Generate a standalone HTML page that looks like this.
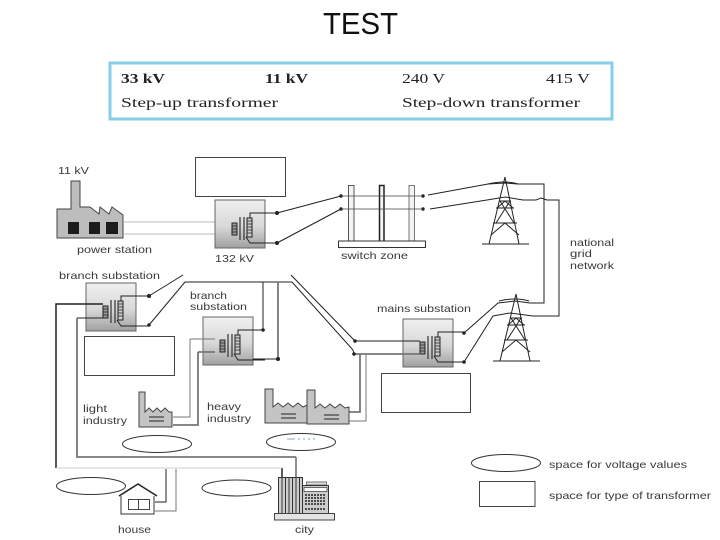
<!DOCTYPE html>
<html><head><meta charset="utf-8"><style>
html,body{margin:0;padding:0;background:#fff}
svg{display:block}
.l{font-family:"Liberation Sans",sans-serif;font-size:10.500px;fill:#3a3a3a}
.s{font-family:"Liberation Serif",serif;font-size:13.500px;fill:#222}
</style></head><body>
<svg width="720" height="540" viewBox="0 0 720 540" xmlns="http://www.w3.org/2000/svg">
<defs>
<linearGradient id="g" x1="0" y1="0" x2="0" y2="1"><stop offset="0" stop-color="#f0f0f0"/><stop offset=".55" stop-color="#d8d8d8"/><stop offset="1" stop-color="#a0a0a0"/></linearGradient>
<g id="tr">
<rect x="0" y="0" width="50" height="48" fill="url(#g)" stroke="#666" stroke-width="1"/>
<path d="M25 17V40M29 17V40" stroke="#333" stroke-width="1.200" fill="none"/>
<rect x="17" y="23" width="5" height="12" fill="#999" stroke="#222" stroke-width="1"/>
<path d="M17 26h5M17 29h5M17 32h5" stroke="#222" stroke-width=".8"/>
<rect x="32" y="18" width="5" height="19" fill="#ccc" stroke="#222" stroke-width="1"/>
<path d="M32 21h5M32 24h5M32 27h5M32 30h5M32 33h5" stroke="#222" stroke-width=".8"/>
<path d="M35 18V13H62M31 37l4 6H62" stroke="#222" stroke-width="1" fill="none"/>
</g>
<g id="tw" fill="none" stroke="#222" stroke-width="1">
<path d="M0 0L-16 67M0 0L14 67M-23 67H24"/>
<path d="M-6 24H6M-9 31H9M-12 46H12M-5 24L9 46M5 24L-9 46M-14 58L0 46L14 58M-8 31L0 24L8 31"/>
<path d="M-17 7Q0 3 13 7" stroke-width="1"/>
</g>
</defs>

<text x="323" y="34" font-family="Liberation Sans,sans-serif" font-size="31" fill="#111" textLength="75" lengthAdjust="spacingAndGlyphs">TEST</text>

<rect x="110" y="63" width="502" height="56" fill="#fff" stroke="#87cfe9" stroke-width="3"/>
<text class="s" x="121" y="83" font-weight="bold" textLength="44" lengthAdjust="spacingAndGlyphs">33 kV</text>
<text class="s" x="265" y="83" font-weight="bold" textLength="43" lengthAdjust="spacingAndGlyphs">11 kV</text>
<text class="s" x="402" y="83" textLength="43" lengthAdjust="spacingAndGlyphs">240 V</text>
<text class="s" x="546" y="83" textLength="44" lengthAdjust="spacingAndGlyphs">415 V</text>
<text class="s" x="121" y="107" textLength="157" lengthAdjust="spacingAndGlyphs">Step-up transformer</text>
<text class="s" x="402" y="107" textLength="178" lengthAdjust="spacingAndGlyphs">Step-down transformer</text>

<!-- power station -->
<path d="M57 209H71V181H80V207H90L99 214L100 207L109 214L112 207L123 215V238H57Z" fill="#bdbdbd" stroke="#444" stroke-width="1"/>
<rect x="68" y="222" width="11" height="12" fill="#1c1c1c"/><rect x="89" y="222" width="11" height="12" fill="#1c1c1c"/><rect x="106" y="222" width="12" height="12" fill="#1c1c1c"/>
<path d="M123 222H232M123 234H232" stroke="#bbb" stroke-width="1"/>

<rect x="195.500" y="157.500" width="90" height="39" fill="#fff" stroke="#444"/>
<rect x="84.500" y="336.500" width="90" height="39" fill="#fff" stroke="#444"/>
<rect x="381.500" y="373.500" width="89" height="39" fill="#fff" stroke="#444"/>

<use href="#tr" x="215" y="200"/>
<use href="#tr" x="86" y="283"/>
<use href="#tr" x="203" y="317"/>
<use href="#tr" x="403" y="319"/>

<!-- wires -->
<g fill="none" stroke="#222" stroke-width="1">
<path d="M277 213L341 196M277 243L341 209"/>
<path d="M428 195L488 184L505 183L518 184H544V303H530L515 301L498 303L464 333"/>
<path d="M430 209L487 200L505 197L523 200H536L541 198L547 200H559V316H533L510 313L493 316L464 362"/>
<path d="M149 296L183 275M149 325L185 282H292L353 350L354 354M291 275L355 341"/>
<path d="M263 282V330H238M355 341H420"/>
<path d="M56 468V304H103M282 477V468" stroke-width="1.500"/>
<path d="M77 318H103M296 477V457"/>
<path d="M166 469V502H155"/>
<path d="M278 359H253"/>
</g>
<g fill="none" stroke="#777" stroke-width="1.800">
<path d="M278 282V359"/>
<path d="M77 318V457H296"/>
<path d="M198 352V425H173M198 352H215"/>
<path d="M354 354H420M360 354V412H349"/>
<path d="M366 354V421H349" stroke-width="1"/>
<path d="M176 469V511H155" stroke-width="1"/>
<path d="M190 339V417H173M190 339H215" stroke-width="1"/>
</g>
<path d="M56 468H282" stroke="#ccc" stroke-width="1" fill="none"/>
<g fill="#222">
<circle cx="277" cy="213" r="2"/><circle cx="277" cy="243" r="2"/><circle cx="341" cy="196" r="1.700"/><circle cx="341" cy="209" r="1.700"/>
<circle cx="423" cy="196" r="1.700"/><circle cx="423" cy="209" r="1.700"/>
<circle cx="149" cy="296" r="2"/><circle cx="149" cy="325" r="1.700"/><circle cx="263" cy="330" r="1.700"/><circle cx="278" cy="359" r="2"/>
<circle cx="355" cy="341" r="1.800"/><circle cx="354" cy="354" r="1.800"/><circle cx="464" cy="333" r="1.800"/><circle cx="464" cy="362" r="1.800"/>
</g>

<!-- switch zone -->
<g fill="#f4f4f4" stroke="#555" stroke-width="1">
<rect x="348.500" y="185.500" width="5.500" height="56"/>
<rect x="379.500" y="185.500" width="4.500" height="56" stroke="#222" stroke-width="1.500"/>
<rect x="409" y="185.500" width="5.500" height="56" stroke="#777"/>
<rect x="338.500" y="241" width="87" height="6.500" stroke="#333" fill="#fff"/>
</g>
<path d="M341 196H423M341 209H423" stroke="#444" stroke-width=".8"/>

<use href="#tw" x="505" y="177"/>
<use href="#tw" x="516" y="294"/>

<!-- light factory -->
<path d="M139 392H145V412L149 408L153 412L157 408L161 412L165 408L169 412H172V427H139Z" fill="#c4c4c4" stroke="#444"/>
<path d="M149 417H164M149 421H164" stroke="#222"/>
<!-- heavy factories -->
<path d="M265 389H273V407L278 403L283 407L288 403L293 407L298 403L303 407L307 405V423H265Z" fill="#c4c4c4" stroke="#444"/>
<path d="M281 414H296M281 418H296" stroke="#222"/>
<path d="M307 390H315V408L320 404L325 408L330 404L335 408L340 404L345 408L349 407V424H307Z" fill="#c4c4c4" stroke="#444"/>
<path d="M324 415H339M324 419H339" stroke="#222"/>

<!-- ellipses -->
<g fill="#fff" stroke="#333" stroke-width="1">
<ellipse cx="157" cy="444" rx="34.500" ry="8.500"/>
<ellipse cx="301" cy="442" rx="34.500" ry="8.500"/>
<ellipse cx="91" cy="486" rx="34.500" ry="8.500"/>
<ellipse cx="236.500" cy="488" rx="34.500" ry="8"/>
<ellipse cx="506" cy="463" rx="34.500" ry="8.500"/>
<rect x="479.500" y="481.500" width="55.500" height="25" stroke="#444"/>
</g>
<path d="M287 439H295M298 439H300M303 439H305M308 439H310M313 439H315" stroke="#5a8a9a" stroke-width=".8"/>

<!-- house -->
<path d="M121 495V514H154V495" fill="#fff" stroke="#333"/>
<path d="M119 496L138 484L157 496" fill="#fff" stroke="#222" stroke-width="1.500"/>
<rect x="128.500" y="499.500" width="21" height="10" fill="#fff" stroke="#444"/>
<path d="M138.500 499V510" stroke="#444"/>

<!-- city -->
<rect x="278.500" y="477.500" width="24" height="36" fill="#ccc" stroke="#333"/>
<path d="M282 478V513M285.500 478V513M289 478V513M292.500 478V513M296 478V513M299.500 478V513" stroke="#333"/>
<rect x="306.500" y="482" width="20" height="3" fill="#ddd" stroke="#777"/>
<rect x="302.500" y="485.500" width="26" height="28" fill="#ccc" stroke="#333"/>
<rect x="304" y="487.500" width="23" height="4" fill="#fff" stroke="#333" stroke-width=".7"/>
<path d="M305 495H326M305 498H326M305 501H326M305 504H326M305 509H326" stroke="#222" stroke-width="1.500" stroke-dasharray="2 1"/>
<rect x="274.500" y="513.500" width="60" height="6.500" fill="#e4e4e4" stroke="#444"/>

<!-- labels -->
<text class="l" x="58" y="174" textLength="31" lengthAdjust="spacingAndGlyphs">11 kV</text>
<text class="l" x="77" y="253" textLength="75" lengthAdjust="spacingAndGlyphs">power station</text>
<text class="l" x="215" y="262" textLength="39" lengthAdjust="spacingAndGlyphs">132 kV</text>
<text class="l" x="59" y="279" textLength="101" lengthAdjust="spacingAndGlyphs">branch substation</text>
<text class="l" x="190" y="299" textLength="37" lengthAdjust="spacingAndGlyphs">branch</text>
<text class="l" x="190" y="310" textLength="57" lengthAdjust="spacingAndGlyphs">substation</text>
<text class="l" x="341" y="259" textLength="67" lengthAdjust="spacingAndGlyphs">switch zone</text>
<text class="l" x="377" y="312" textLength="94" lengthAdjust="spacingAndGlyphs">mains substation</text>
<text class="l" x="570" y="246" textLength="44" lengthAdjust="spacingAndGlyphs">national</text>
<text class="l" x="570" y="257" textLength="22" lengthAdjust="spacingAndGlyphs">grid</text>
<text class="l" x="570" y="269" textLength="44" lengthAdjust="spacingAndGlyphs">network</text>
<text class="l" x="83" y="412" textLength="24" lengthAdjust="spacingAndGlyphs">light</text>
<text class="l" x="83" y="424" textLength="44" lengthAdjust="spacingAndGlyphs">industry</text>
<text class="l" x="207" y="410" textLength="34" lengthAdjust="spacingAndGlyphs">heavy</text>
<text class="l" x="207" y="422" textLength="44" lengthAdjust="spacingAndGlyphs">industry</text>
<text class="l" x="118" y="533" textLength="33" lengthAdjust="spacingAndGlyphs">house</text>
<text class="l" x="295" y="533" textLength="19" lengthAdjust="spacingAndGlyphs">city</text>
<text class="l" x="549" y="468" textLength="138" lengthAdjust="spacingAndGlyphs">space for voltage values</text>
<text class="l" x="549" y="499" textLength="162" lengthAdjust="spacingAndGlyphs">space for type of transformer</text>
</svg>
</body></html>
